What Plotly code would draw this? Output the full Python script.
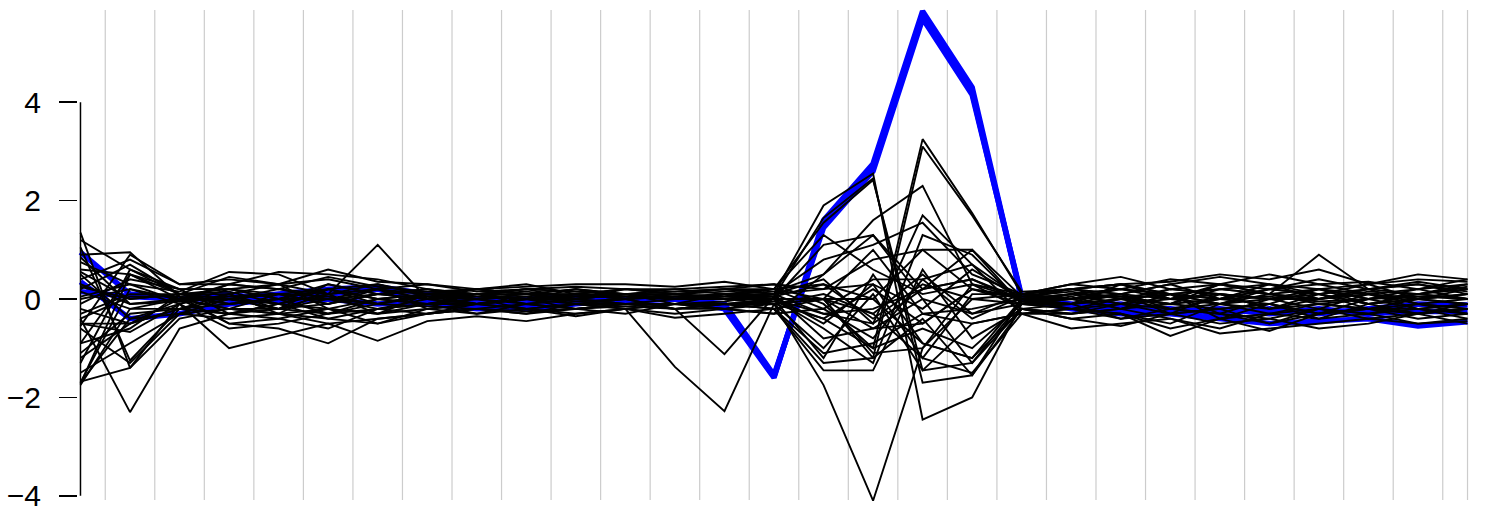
import plotly.graph_objects as go

# positions of the 29 variables (parallel coordinates)
variables = list(range(29))

# black profiles
L01 = [1.35, -1.4, -0.1, 0.2, 0.1, 0.05, -0.1, 0.1, 0.05, 0.0, 0.1, 0.05, 0.0, 0.1, 0.0, -0.3, -0.5, 0.2, 0.4, -0.05, 0.1, 0.05, -0.1, 0.2, 0.1, 0.0, 0.15, 0.1, 0.2]
L02 = [1.2, 0.6, 0.2, -0.3, -0.2, 0.3, 0.1, 0.2, 0.0, 0.1, -0.1, 0.0, 0.1, 0.0, 0.1, 1.9, 2.55, -2.45, -2.0, -0.1, 0.05, -0.2, 0.1, -0.1, 0.2, 0.1, -0.1, 0.0, 0.1]
L03 = [1.05, -1.25, -0.2, 0.1, 0.3, -0.2, 0.0, -0.1, 0.1, 0.2, 0.0, 0.1, -0.1, 0.1, 0.05, 1.65, 2.45, -1.7, -1.55, 0.0, 0.2, 0.1, 0.3, 0.0, -0.1, 0.2, 0.0, 0.1, 0.3]
L04 = [0.9, 0.95, 0.05, -0.1, 0.0, 0.2, 0.3, 0.05, -0.1, 0.0, 0.2, 0.1, 0.0, 0.05, 0.2, 1.55, 2.42, -1.45, -1.3, -0.05, -0.1, 0.3, 0.0, 0.1, -0.2, 0.0, 0.2, -0.1, 0.0]
L05 = [0.75, 0.3, 0.15, 0.55, 0.5, 0.1, 0.2, 0.0, 0.2, 0.1, 0.1, 0.2, 0.15, 0.2, 0.3, -0.1, -1.0, 3.25, 1.75, 0.1, 0.3, 0.45, 0.2, 0.3, 0.1, 0.9, 0.2, 0.1, 0.0]
L06 = [0.6, 0.5, 0.1, 0.45, 0.3, 0.6, 0.35, 0.3, 0.2, 0.25, 0.3, 0.3, 0.25, 0.35, 0.2, 0.0, -1.2, 3.1, 1.7, 0.15, 0.2, 0.3, 0.35, 0.5, 0.4, 0.6, 0.3, 0.5, 0.4]
L07 = [0.5, -0.4, -0.3, 0.0, -0.2, -0.3, -0.2, 0.0, 0.1, -0.1, 0.0, -0.1, 0.0, 0.0, -0.1, -1.75, -4.1, -1.0, 0.3, 0.0, -0.2, 0.0, 0.1, -0.3, 0.0, -0.2, 0.1, -0.1, -0.2]
L08 = [0.4, 0.8, 0.3, 0.3, 0.55, 0.5, 0.4, 0.2, 0.1, 0.2, 0.15, 0.1, 0.2, 0.1, 0.0, 1.1, 1.3, 0.2, 1.0, -0.1, 0.1, 0.2, 0.0, 0.3, 0.2, 0.4, 0.2, 0.3, 0.1]
L09 = [0.3, -0.1, 0.0, -0.5, -0.4, -0.2, -0.5, -0.3, -0.2, -0.3, -0.1, -0.2, -0.1, -0.2, -0.3, 0.5, 1.6, 2.3, 0.3, -0.2, -0.4, -0.3, -0.5, -0.1, -0.3, -0.1, -0.2, -0.3, -0.1]
L10 = [0.2, 0.7, 0.1, 0.15, -0.1, 0.2, 0.0, 0.1, -0.1, 0.0, 0.0, 0.1, 0.0, 0.1, 0.1, 0.4, -0.5, 1.7, 0.7, 0.0, -0.1, 0.1, -0.2, 0.0, 0.3, 0.0, 0.1, -0.2, -0.1]
L11 = [-0.4, -2.3, -0.6, -0.3, -0.1, 0.1, -0.3, -0.1, 0.0, -0.2, -0.1, 0.0, -0.2, -0.1, 0.0, -0.6, -1.3, 1.3, 0.9, -0.1, 0.0, -0.2, 0.1, -0.4, -0.1, -0.3, 0.0, -0.2, -0.3]
L12 = [0.0, 0.2, -0.1, -1.0, -0.75, -0.5, -0.85, -0.45, -0.35, -0.45, -0.3, -0.2, -0.38, -0.3, -0.2, -1.1, -0.9, -0.3, -0.5, -0.3, -0.6, -0.5, -0.4, -0.7, -0.6, -0.5, -0.4, -0.5, -0.45]
L13 = [-0.1, 0.4, 0.2, 0.2, 0.0, 0.3, 0.1, 0.0, 0.1, 0.1, 0.2, 0.0, 0.1, 0.0, 0.1, 0.2, 0.8, 1.0, 0.2, 0.05, 0.15, 0.0, 0.2, 0.1, 0.0, 0.2, 0.1, 0.0, 0.2]
L14 = [-0.2, -0.5, 0.0, -0.2, 0.1, -0.1, 0.2, -0.2, -0.1, 0.0, -0.2, -0.1, -0.2, -0.2, 0.0, -1.2, 0.5, -0.9, -1.2, -0.2, -0.3, -0.1, -0.2, -0.3, -0.4, -0.2, -0.3, -0.1, -0.3]
L15 = [-0.3, 0.1, 0.1, 0.0, 0.2, 0.0, 0.1, 0.15, 0.2, 0.1, 0.0, 0.2, 0.1, 0.2, 0.1, 0.8, 1.1, 1.55, 0.5, 0.1, 0.2, 0.3, 0.1, 0.2, 0.3, 0.1, 0.2, 0.35, 0.2]
L16 = [-0.5, -0.5, -0.2, -0.3, -0.4, -0.6, -0.2, -0.3, -0.2, -0.1, -0.2, -0.3, -0.1, -0.1, -0.2, -1.45, -1.45, 0.6, -0.8, -0.2, -0.1, -0.4, -0.3, -0.2, -0.1, -0.4, -0.1, -0.3, -0.2]
L17 = [-0.5, -0.67, -0.1, 0.1, -0.3, 0.2, -0.1, 0.1, 0.0, 0.1, 0.1, 0.0, 0.05, 0.1, -0.1, -0.4, -1.0, -0.6, -1.0, -0.1, 0.0, 0.1, -0.3, 0.1, 0.0, 0.1, -0.2, 0.0, 0.1]
L18 = [-0.55, 0.9, 0.3, 0.4, 0.3, 0.4, 0.2, 0.3, 0.15, 0.2, 0.25, 0.2, 0.2, 0.25, 0.3, 0.2, 0.3, -1.2, 0.1, 0.1, 0.3, 0.2, 0.4, 0.3, 0.5, 0.3, 0.35, 0.2, 0.3]
L19 = [-0.6, -1.3, -0.3, -0.2, -0.3, -0.4, -0.5, -0.2, -0.3, -0.2, -0.35, -0.2, -0.3, -0.2, -0.1, -1.0, 0.1, -1.45, -0.5, -0.3, -0.2, -0.3, -0.6, -0.4, -0.3, -0.4, -0.3, -0.2, -0.4]
L20 = [-0.9, 0.5, 0.0, 0.3, 0.2, 0.1, 0.3, 0.1, 0.2, 0.3, 0.1, 0.2, 0.1, 0.2, 0.2, 0.3, -0.4, 0.3, 0.0, 0.1, 0.2, 0.1, 0.3, 0.45, 0.3, 0.2, 0.3, 0.4, 0.35]
L21 = [-1.1, -0.3, -0.2, -0.1, 0.0, -0.3, 0.0, -0.1, 0.0, -0.1, 0.0, -0.1, -0.1, -0.05, 0.1, -0.8, -0.6, 0.0, -1.3, -0.2, -0.3, -0.2, -0.1, -0.2, -0.5, -0.3, -0.2, -0.4, -0.3]
L22 = [-1.3, 0.6, 0.1, 0.1, -0.2, -0.1, 0.1, 0.0, -0.1, 0.0, 0.1, 0.05, 0.0, 0.0, 0.0, 0.0, 1.0, -0.3, -0.2, 0.0, -0.1, 0.0, 0.1, -0.1, 0.1, -0.1, 0.0, 0.2, 0.0]
L23 = [-1.5, -0.9, -0.3, -0.4, -0.3, -0.2, -0.3, -0.2, -0.1, -0.2, -0.1, -0.2, -1.38, -2.28, -0.1, 0.0, -0.3, 0.5, -0.3, -0.1, -0.2, -0.1, -0.3, -0.2, -0.1, -0.3, -0.2, -0.3, -0.2]
L24 = [-1.7, 0.2, 0.0, 0.0, 0.1, 0.2, 0.0, 0.1, 0.1, 0.0, 0.1, 0.0, -0.2, -1.12, 0.05, -0.5, 0.3, -0.2, 0.6, 0.0, 0.1, -0.1, 0.0, 0.1, -0.2, 0.1, -0.1, 0.0, -0.1]
L25 = [-1.7, -0.4, -0.1, -0.6, -0.5, -0.3, -0.1, -0.15, -0.2, -0.3, -0.2, -0.1, -0.2, -0.1, -0.2, -1.3, -1.2, -0.4, -1.55, -0.2, -0.4, -0.55, -0.3, -0.5, -0.4, -0.6, -0.5, -0.3, -0.5]
L26 = [-1.72, 0.5, 0.2, 0.2, 0.3, 0.1, 0.2, 0.1, 0.2, 0.1, 0.2, 0.1, 0.1, 0.15, 0.2, 1.3, 0.6, 0.1, 0.3, 0.1, 0.2, 0.3, 0.1, 0.0, 0.2, 0.3, 0.1, 0.2, 0.4]
L27 = [-1.75, -0.2, -0.2, -0.3, -0.1, -0.4, -0.2, -0.1, -0.3, -0.1, -0.2, -0.1, -0.1, -0.2, -0.3, -0.2, -0.8, 0.4, 0.7, -0.3, -0.3, -0.2, -0.4, -0.6, -0.3, -0.2, -0.3, -0.5, -0.4]
L28 = [-1.68, -1.4, -0.4, -0.2, -0.3, -0.5, -0.4, -0.3, -0.1, -0.2, -0.3, -0.2, -0.1, -0.1, -0.1, 0.1, -0.3, -1.2, -1.5, -0.3, -0.2, -0.4, -0.2, -0.3, -0.5, -0.2, -0.4, -0.3, -0.2]
L29 = [0.25, 0.0, 0.1, -0.1, 0.0, 0.0, -0.1, 0.05, 0.0, 0.05, -0.05, 0.0, 0.05, 0.0, 0.05, 0.3, 0.0, 1.0, 1.0, 0.05, 0.0, 0.05, -0.1, 0.0, 0.05, -0.05, 0.0, 0.05, 0.0]
L30 = [0.05, 0.3, -0.05, 0.3, 0.2, 0.45, 0.25, 0.15, 0.1, 0.2, 0.15, 0.1, 0.15, 0.2, 0.1, -0.3, -0.2, 0.2, 0.4, 0.0, 0.1, 0.2, 0.1, 0.2, 0.1, 0.2, 0.0, 0.1, 0.25]
L31 = [0.15, -0.2, 0.0, -0.2, -0.2, 0.1, 1.1, 0.0, -0.1, 0.0, 0.1, 0.0, 0.1, 0.0, 0.0, 0.0, -0.6, -0.5, 0.2, 0.0, 0.0, 0.1, 0.0, -0.1, 0.0, 0.0, 0.1, 0.0, -0.1]
L32 = [-0.4, 0.05, 0.05, -0.5, -0.6, -0.9, -0.4, -0.3, -0.2, -0.25, -0.2, -0.15, -0.2, -0.1, -0.2, 0.0, -1.1, -1.0, 0.0, -0.1, -0.2, -0.3, -0.75, -0.4, -0.65, -0.3, -0.2, -0.1, -0.2]
L33 = [0.55, 0.0, 0.1, 0.0, -0.1, -0.2, -0.3, 0.1, 0.2, 0.1, 0.0, 0.1, 0.0, 0.1, 0.15, 0.5, 1.3, 0.0, -0.3, 0.1, 0.0, 0.2, 0.1, 0.0, 0.2, 0.1, 0.3, 0.0, 0.1]
L34 = [0.85, -0.1, -0.05, 0.05, 0.1, -0.1, 0.1, 0.2, 0.1, 0.15, 0.05, 0.1, 0.1, 0.05, 0.0, 0.0, 0.0, -0.9, -1.2, 0.0, 0.1, -0.1, 0.2, 0.1, 0.0, 0.2, -0.1, 0.1, 0.0]
L35 = [-0.9, -0.6, 0.1, 0.2, 0.0, 0.0, 0.2, 0.0, 0.1, 0.0, 0.05, 0.1, 0.0, 0.1, 0.2, -0.2, 0.4, 0.4, -0.4, 0.05, 0.2, 0.0, -0.1, 0.3, 0.1, 0.0, 0.2, 0.3, 0.15]
L36 = [-1.2, -0.5, -0.2, 0.0, -0.2, 0.0, -0.2, -0.1, -0.1, 0.0, -0.1, -0.1, -0.1, -0.1, -0.05, -0.4, 0.2, -0.5, 0.2, -0.1, -0.1, 0.0, -0.2, -0.1, -0.2, -0.1, -0.2, -0.2, -0.1]

# highlighted (blue) profiles
B1 = [0.95, 0.1, 0.0, 0.0, 0.1, 0.2, 0.25, 0.1, 0.0, 0.0, 0.05, 0.0, 0.0, -0.2, -1.6, 1.6, 2.75, 5.85, 4.3, 0.0, -0.1, -0.2, -0.2, -0.3, -0.2, -0.3, -0.2, -0.1, -0.12]
B2 = [0.35, -0.4, -0.3, -0.1, 0.0, 0.1, 0.2, -0.1, -0.2, -0.2, -0.1, 0.0, 0.0, -0.15, -1.58, 1.5, 2.65, 5.75, 4.2, 0.0, -0.2, -0.3, -0.3, -0.4, -0.5, -0.45, -0.4, -0.55, -0.46]
B3 = [0.15, 0.05, 0.0, 0.1, -0.05, 0.0, -0.1, -0.05, -0.1, -0.1, 0.0, -0.05, 0.0, -0.1, -1.55, 1.45, 2.6, 5.7, 4.15, 0.05, -0.15, -0.1, -0.25, -0.2, -0.3, -0.2, -0.3, -0.25, -0.26]

black_series = [L01, L02, L03, L04, L05, L06, L07, L08, L09, L10, L11, L12,
                L13, L14, L15, L16, L17, L18, L19, L20, L21, L22, L23, L24,
                L25, L26, L27, L28, L29, L30, L31, L32, L33, L34, L35, L36]
blue_series = [B1, B2, B3]

y_ticks = [-4, -2, 0, 2, 4]
y_ticktext = ["\u22124", "\u22122", "0", "2", "4"]
data_min, data_max = -4.085, 5.874

fig = go.Figure()

for s in blue_series:
    fig.add_trace(go.Scatter(x=variables, y=s, mode="lines",
                             line=dict(color="#0000ff", width=5.5),
                             hoverinfo="skip", showlegend=False))
for s in black_series:
    fig.add_trace(go.Scatter(x=variables, y=s, mode="lines",
                             line=dict(color="black", width=1.9),
                             hoverinfo="skip", showlegend=False))

shapes = []
grid_x = [k + 0.5 for k in variables[:-1]] + [variables[-1]]
for gx in grid_x:
    shapes.append(dict(type="line", xref="x", yref="y", x0=gx, x1=gx,
                       y0=data_min, y1=data_max, layer="below",
                       line=dict(color="#cccccc", width=1.2)))
# R style y axis line between first and last tick
shapes.append(dict(type="line", xref="x", yref="y", x0=0, x1=0,
                   y0=y_ticks[0], y1=y_ticks[-1],
                   line=dict(color="black", width=1.5)))

W, H = 1487, 510
ml, mr, mt, mb = 78, 17, 5, 5
fig.update_layout(
    width=W, height=H,
    margin=dict(l=ml, r=mr, t=mt, b=mb, autoexpand=False),
    paper_bgcolor="white", plot_bgcolor="white",
    shapes=shapes,
    hovermode=False,
    font=dict(family="Liberation Sans, Arial, sans-serif", size=30, color="black"),
    xaxis=dict(range=[-0.05, 28.05], visible=False, showgrid=False,
               zeroline=False, automargin=False),
    yaxis=dict(range=[-4.187, 5.976], showgrid=False, zeroline=False,
               showline=False, tickmode="array", tickvals=y_ticks,
               ticktext=y_ticktext, ticks="outside", ticklen=18,
               tickwidth=1.5, tickcolor="black", ticklabelstandoff=12,
               ticklabeloverflow="allow", automargin=False),
)

fig.write_html("out.html",
               config={"displayModeBar": False, "staticPlot": True},
               post_script="document.body.style.margin='0';document.body.style.padding='0';")
